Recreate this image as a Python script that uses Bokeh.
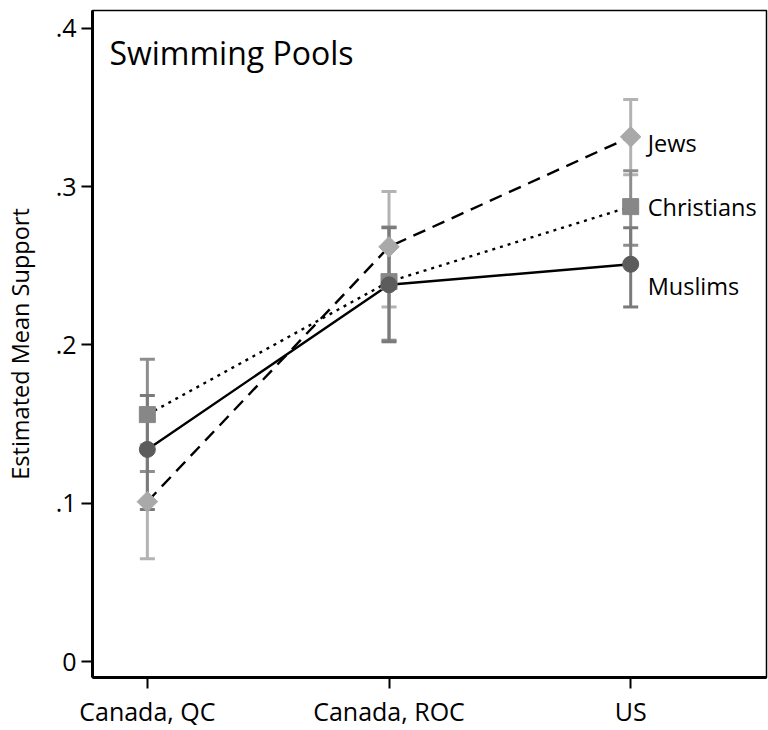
import math
from bokeh.plotting import figure
from bokeh.models import Range1d, FixedTicker, Label, ColumnDataSource
from bokeh.core.properties import value
from bokeh.embed import file_html
from bokeh.resources import INLINE

# ---- data ----
categories = ["Canada, QC", "Canada, ROC", "US"]
xpos = [1, 2, 3]

jews = [0.101, 0.262, 0.3315]
jews_lo = [0.065, 0.224, 0.3075]
jews_hi = [0.137, 0.297, 0.355]

christians = [0.156, 0.240, 0.2874]
christians_lo = [0.120, 0.203, 0.263]
christians_hi = [0.191, 0.2745, 0.310]

muslims = [0.134, 0.238, 0.251]
muslims_lo = [0.096, 0.202, 0.224]
muslims_hi = [0.168, 0.274, 0.274]

y_ticks = [0, 0.1, 0.2, 0.3, 0.4]
y_tick_labels = ["0", ".1", ".2", ".3", ".4"]

FONT = "Open Sans"

p = figure(width=768, height=730, output_backend="svg", toolbar_location=None,
           x_range=Range1d(0.773, 3.562), y_range=Range1d(-0.0101, 0.4113),
           min_border_left=91, min_border_right=2, min_border_top=10, min_border_bottom=51)
p.xgrid.visible = False
p.ygrid.visible = False
p.outline_line_color = "black"
p.outline_line_width = 1.5
p.background_fill_color = "white"
p.border_fill_color = "white"

# name, values, lo, hi, marker, size, angle, marker colour, CI colour, dash, label y offset
series = [
    ("Jews", jews, jews_lo, jews_hi, "square", 14.5, math.pi / 4, "#a9a9a9", "#b3b3b3", "13 8", 6),
    ("Christians", christians, christians_lo, christians_hi, "square", 16, 0, "#878787", "#8e8e8e", "3 5", 0),
    ("Muslims", muslims, muslims_lo, muslims_hi, "circle", 16, 0, "#5c5c5c", "#7a7a7a", "solid", 22),
]

# CIs
for name, v, lo, hi, mk, sz, ang, mcol, ccol, dash, off in series:
    src = ColumnDataSource(dict(x=xpos, lo=lo, hi=hi))
    p.segment(x0="x", y0="lo", x1="x", y1="hi", source=src, line_color=ccol, line_width=3)
    p.scatter(x="x", y="lo", source=src, marker="dash", size=15, line_color=ccol, line_width=3)
    p.scatter(x="x", y="hi", source=src, marker="dash", size=15, line_color=ccol, line_width=3)

# lines
for name, v, lo, hi, mk, sz, ang, mcol, ccol, dash, off in series:
    p.line(xpos, v, line_color="black", line_width=2.4, line_dash=dash)

# markers and labels
for name, v, lo, hi, mk, sz, ang, mcol, ccol, dash, off in series:
    p.scatter(xpos, v, marker=mk, size=sz, angle=ang, fill_color=mcol, line_color=mcol)
    p.text(x=[xpos[-1]], y=[v[-1]], text=[name], x_offset=17, y_offset=off,
           text_font=value(FONT), text_font_size="23.5px", text_baseline="middle",
           text_align="left", text_color="black")

# title inside
p.add_layout(Label(x=0.843, y=0.3849, text="Swimming Pools", text_font=FONT,
                   text_font_size="32px", text_baseline="alphabetic", text_color="black"))

# axes
p.yaxis.ticker = FixedTicker(ticks=y_ticks)
p.yaxis.major_label_overrides = {t: l for t, l in zip(y_ticks, y_tick_labels)}
p.yaxis.axis_label = "Estimated Mean Support"
p.xaxis.ticker = FixedTicker(ticks=xpos)
p.xaxis.major_label_overrides = {x: c for x, c in zip(xpos, categories)}

for ax in (p.xaxis[0], p.yaxis[0]):
    ax.axis_line_width = 3
    ax.axis_line_color = "black"
    ax.major_tick_in = 0
    ax.major_tick_out = 11
    ax.major_tick_line_width = 2
    ax.minor_tick_line_color = None
    ax.major_label_text_font = FONT
    ax.major_label_text_font_size = "25px"
    ax.major_label_text_color = "black"
    ax.major_label_standoff = 5
    ax.axis_label_text_font = FONT
    ax.axis_label_text_font_style = "normal"
    ax.axis_label_text_font_size = "23.5px"
    ax.axis_label_text_color = "black"

p.yaxis.major_label_orientation = "horizontal"
p.yaxis.axis_label_standoff = 17

open("out.html", "w").write(file_html(p, INLINE))
